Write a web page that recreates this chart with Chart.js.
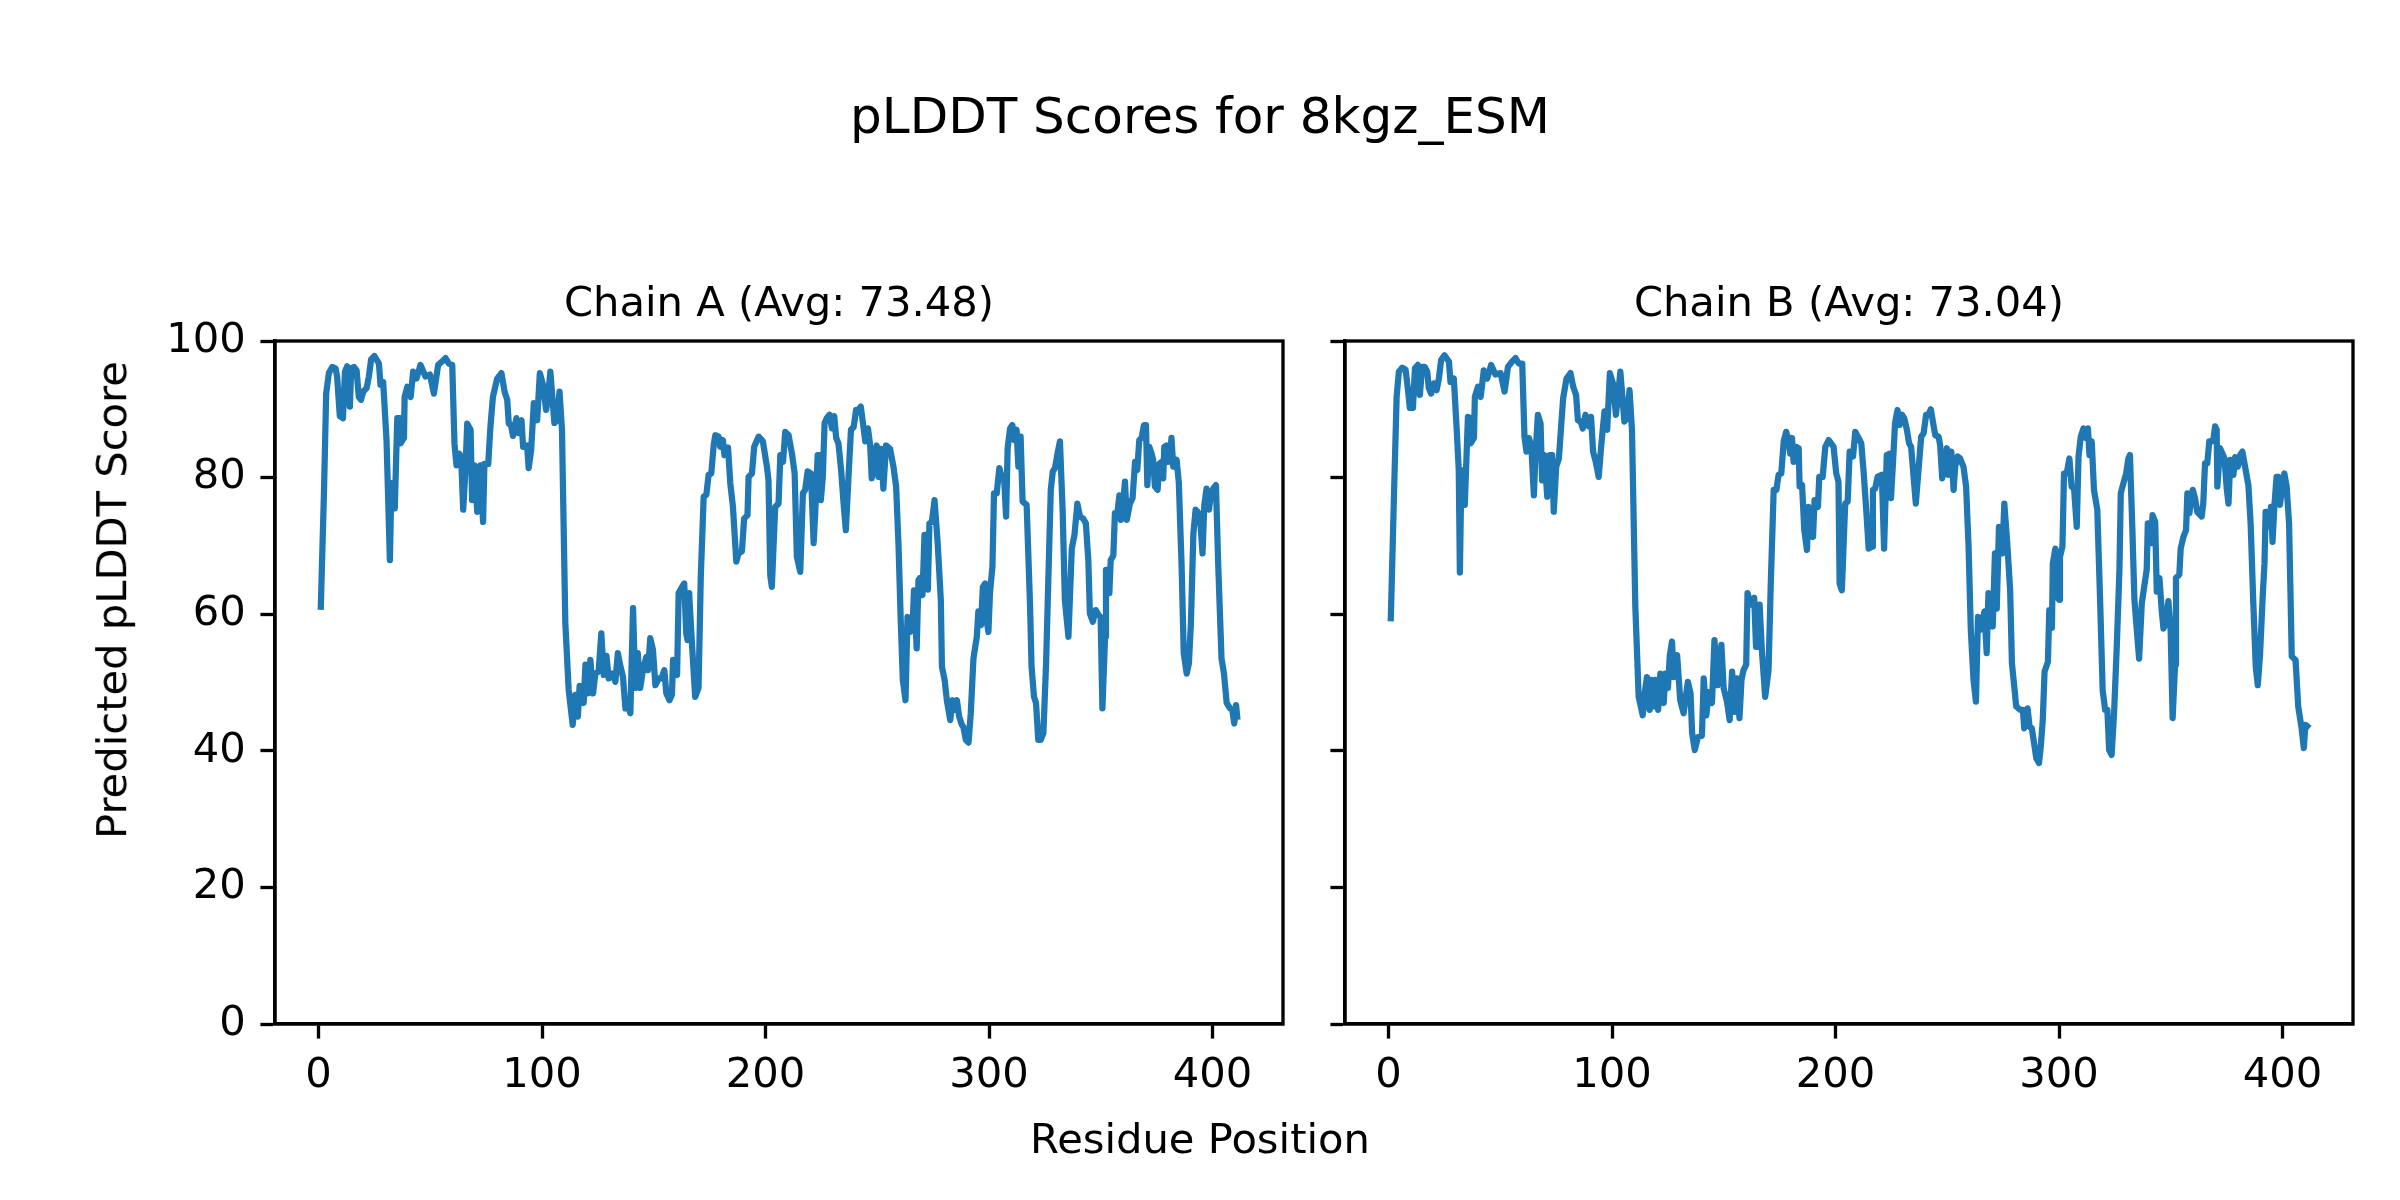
<!DOCTYPE html>
<html>
<head>
<meta charset="utf-8">
<script src="https://cdn.jsdelivr.net/npm/chart.js@4/dist/chart.umd.min.js"></script>
<style>
  html, body { margin: 0; padding: 0; background: #fff; }
  #fig { position: relative; width: 2400px; height: 1200px; overflow: hidden; background: #fff; }
  canvas { position: absolute; top: 0; }
  .txt { position: absolute; white-space: nowrap; font-family: "DejaVu Sans", sans-serif; color: #000; }
</style>
</head>
<body>
<div id="fig">
  <canvas id="cA" width="1330" height="1200" style="left:0px;width:1330px;height:1200px"></canvas>
  <canvas id="cB" width="1100" height="1200" style="left:1300px;width:1100px;height:1200px"></canvas>
  <div class="txt" id="supTitle" style="font-size:50px;line-height:50px;left:1200px;top:91px;transform:translateX(-50%)"></div>
  <div class="txt" id="titleA" style="font-size:41.67px;line-height:41.67px;left:779px;top:281px;transform:translateX(-50%)"></div>
  <div class="txt" id="titleB" style="font-size:41.67px;line-height:41.67px;left:1849px;top:281px;transform:translateX(-50%)"></div>
  <div class="txt" id="xLabel" style="font-size:41.67px;line-height:41.67px;left:1200px;top:1118px;transform:translateX(-50%)"></div>
  <div class="txt" id="yLabel" style="font-size:41.67px;line-height:41.67px;left:112px;top:600px;transform:translate(-50%,-50%) rotate(-90deg)"></div>
</div>
<script>
// ---------------- data ----------------
const figureTitle = "pLDDT Scores for 8kgz_ESM";
const chainTitles = ["Chain A (Avg: 73.48)", "Chain B (Avg: 73.04)"];
const xAxisLabel = "Residue Position";
const yAxisLabel = "Predicted pLDDT Score";
const xTickValues = [0, 100, 200, 300, 400];
const yTickValues = [0, 20, 40, 60, 80, 100];

const chainA_res = [1,2.4,3.4,4.6,6.1,7.6,8.3,9.5,10.9,11.8,12.8,14,14.6,15.8,17,18,19,20,21.5,22.5,23.5,25,27,27.7,28.9,30.4,31.9,32.6,34.1,35.2,36.4,36.7,38.2,38.5,39.7,41.2,42.3,43.8,45.6,47.8,49.8,51.6,53.5,55.3,56.8,58.3,59.8,60.8,61.7,63,63.8,64.7,65.7,66.5,68,68.7,69.7,71,72.4,73.6,74.2,75.9,76.9,78,79.9,81.8,83.2,84.4,85.1,86.1,87,88.5,89.6,90.8,91.5,93.3,94,95.1,96.3,97.8,99,100.4,101.8,102.7,103.7,105.5,106.7,107.8,108.9,110.4,111.9,113.7,114.9,116,116.8,117.9,118.6,119.4,120.4,121.6,122.8,123.8,125.3,126.5,127.6,128.8,129.8,131.3,132.8,133.9,135.1,136.2,137.3,138.4,139.5,140.7,141.7,142.8,143.9,145.1,146.6,147.4,148.4,149.6,150.7,152.2,153.4,154.7,155.6,157,158.1,158.6,160.4,161.1,162.6,163.6,164.5,165.1,165.8,167,168.5,170,171,172.3,173.5,174.5,175.7,176.8,177.5,179,179.7,180.9,181.6,183.2,184.2,185.4,186.9,187.9,189.4,190.4,191.9,192.4,193.9,194.9,196.9,198.8,200.6,201.3,202.1,202.8,204.3,205.8,206.6,207.8,208.8,210.3,211.8,213,214,215.5,216.7,217.7,218.8,220.3,221.5,222.2,223.3,224.2,224.7,225.6,226.4,227.4,228.6,229.7,230.7,231.6,232.6,233.8,234.9,235.9,237.1,238.2,239.4,240.5,241.6,242.6,243.8,244.6,245.8,246.8,247.5,248.6,249.7,250.5,251.6,252.7,253.9,255.7,257.2,258.4,259.5,260.5,261.4,262.6,263.5,264.7,265.8,266.4,267.6,268.4,269.1,270.2,271.1,271.8,272.6,273.3,274.4,275.6,277,278.4,278.9,280.1,281.1,282.6,283.7,284.5,285.6,286.6,287.8,288.5,289.6,290.8,291.8,293,294.5,295.2,296.4,297.2,298.2,299,299.7,300.4,301.5,302.2,303.4,304.6,305.6,306.7,307.6,308.3,309.4,310.4,311.3,312.3,313.1,314.1,315,316.8,318.3,319,320.1,321,322,323.1,324.3,325.5,326.5,327.6,328.5,329.5,330.6,331.7,332.9,333.9,335.5,337,338.2,339.5,340.7,342.1,343.3,344.4,345.1,346.4,347.7,348.9,349.9,350.7,351.9,352.3,353.4,353.8,354.4,355.6,356.3,357.4,358.3,359,360,360.8,361.6,363,364.2,365.3,366.3,367.2,368.2,369.3,370.2,370.8,371.7,372.7,373.4,374.2,375.4,376.1,377.2,377.9,378.4,379.4,380.1,380.9,381.6,382.4,383.1,383.9,384.9,386.1,387.1,388.4,389.4,390.3,391.4,392.4,393.3,394.3,395.5,396.3,397.3,398.4,399.3,400.3,401.5,402.5,404,405.1,406.3,407.8,408.8,409.7,410.5,411];
const chainA_plddt = [61.1,77.7,92.3,95.3,96.2,96,94.8,89,88.7,95.5,96.3,90.4,96,96.2,95.7,91.8,91.4,92.6,93.1,94.8,97.3,97.8,96.7,93.6,94,85.5,67.9,79.2,75.5,88.7,88.7,85,85.8,91.8,93.3,91.8,95.5,94.5,96.5,94.8,95.1,92.3,96.5,97,97.5,96.7,96.5,85,81.8,83.5,82.8,75.3,81.1,87.9,87,76.7,81.8,75,81.8,73.5,82,82,87.5,91.8,94.5,95.3,92.6,91.4,87.9,87.7,86.1,88.7,86.5,88.4,84.5,84.7,81.4,84,90.9,88.4,95.3,93.6,89.9,92,95.5,88,88.4,92.6,87,58.7,48.9,43.8,48.2,45,49.5,49.2,47,52.6,48.4,53.3,48.4,51.3,51.6,57.2,51.1,53.9,50.6,51.3,50.1,54.3,52.3,50.8,46.2,46.5,45.5,60.9,49.2,54.3,49.2,51.8,53.7,51.8,56.5,54.8,49.6,50.6,50.6,51.8,48.4,47.4,48.2,53.3,51.1,63.1,64,64.5,57.2,56.2,63.1,56,47.9,49.2,65.5,77.2,77.5,80.4,80.6,84.8,86.2,86,84.5,85.5,83.3,84.4,79.2,75.7,67.7,68.9,69.2,74,74.5,80.1,80.6,84.5,86,85.3,81.6,79.6,65.7,64,75.7,76.2,83.3,82.3,86.7,86.2,83.5,80.6,68.4,66.2,77.7,78.2,80.9,80.6,70.4,74.8,83.3,83.3,76.7,80.1,88,88.7,89.2,87.2,89,85.8,85,81.1,76.2,72.3,80.1,87,87.4,89.9,89.9,90.4,87.4,85.3,87.2,84.7,79.9,82.6,84.7,80.1,84.2,78.4,84.7,84.2,81.6,78.7,69.9,58.7,50.4,47.4,59.6,57.4,58.7,63.5,55,65,65.3,62.8,71.6,71.6,63.6,73.3,73.5,76.7,70.4,62.1,52.3,50.4,47.4,44.5,47.4,46,47.4,45,43.8,43.5,41.6,41.2,45.5,53.5,56.7,60.4,58.4,64,64.5,58.9,57.4,63.1,67,77.7,77.7,81.4,80.1,80.1,74.3,84.3,87.2,87.7,85.5,87,81.6,86,76.5,76,61.6,52.3,47.9,47,41.6,41.6,42.6,52.8,65,78.2,80.9,81.4,83.5,85.3,75.3,62.1,56.7,69.6,71.6,76.2,74.3,74,73.3,67.9,60.1,58.9,60.6,59.9,59.6,46.2,56.7,66.5,66.5,63.1,67.9,68.6,74.8,74.8,77.4,73.8,76.5,79.4,73.8,76.2,77,82.3,81.1,85.5,85.8,87.7,87.7,78.9,84.5,83.5,82.6,78.7,78.2,82,82.3,79.9,84.5,84.7,82.3,83,85.8,81.6,82.3,82.6,79.2,67.4,54.3,51.3,52.8,58.7,71.8,75.3,75,74.5,68.9,76,78.4,75.3,77.7,78.4,78.9,67.4,53.5,51.3,47,46.2,46,44,46.7,45];

const chainB_res = [1,2.4,3.6,4.6,6.1,7.6,8.6,9.5,10.9,11.8,13.1,14,15,16.2,17.3,18,19,20.3,21.5,22.5,23.5,25,27,27.7,29.2,30.4,31.4,31.9,32.6,34.1,35.5,36.4,36.7,38.2,38.6,40,41.2,42.6,44.1,45.9,47.8,50.1,51.9,53.4,55.3,56.8,58.3,59.8,60.8,61.7,62.8,63.9,65,65.7,66.8,68,68.7,69.7,71,72.1,73.2,73.9,75,76.2,77.2,78.1,79.6,81.4,82.6,83.9,84.7,85.9,86.9,88.1,89.6,90.6,91.5,92.7,94,95.1,96.6,97.8,99,100.4,101.7,102.6,103.7,105.5,106.7,107.8,108.9,110.4,111.9,113.7,114.6,115.6,116.8,117.6,118.6,119.4,120.6,121.6,123.1,123.8,125,125.8,126.8,127.6,129.1,130.5,132,133.9,135.1,135.8,137,138.4,140.2,141,142.2,143.2,144.7,145.8,147.2,148.9,149.9,151.4,152.6,153.7,154.8,155.8,157,157.9,158.8,160,160.6,162.1,163.6,164.4,165.1,166,167,168.5,170,171,172.3,173.5,174.5,175.7,176.8,177.9,179,179.7,180.5,181.2,182.3,183.5,183.9,185,186,187.2,187.9,188.7,189.9,190.6,192.1,192.7,194.2,195.4,196.9,199.1,200.3,201.3,201.8,202.8,204.3,205.4,206.3,207.8,208.8,210.3,211.5,212.6,213.8,214.8,216.3,216.7,217.7,218.8,220.7,221.7,222.9,224.1,224.8,225.9,226.6,227.7,228.6,229.7,230.7,231.9,232.9,233.8,234.9,235.9,237.1,238.3,239.4,240.5,241.6,242.6,243.8,244.6,246.1,246.8,247.7,248.8,249.8,250.5,251.8,252.8,253.5,254.6,255.7,257.2,258.4,259.5,260.5,261.7,262.8,263.7,264.7,265.8,266.6,267.6,268.4,269.4,270.3,271.3,272.1,273.1,274,274.6,275.5,276.9,278.1,278.9,280.1,280.8,282.6,283.8,284.4,285.9,286.8,287.8,288.9,289.8,291,291.8,292.7,293.5,295,295.6,296.8,297.2,298.3,299,300,300.4,301.5,302.2,303.4,304.6,305.6,306.7,307.9,308.7,309.7,310.9,312,312.9,313.6,314.6,315.6,317.1,318.3,319.5,320.6,321.6,322.4,323.5,324.6,325.8,327,327.6,328.8,330,331,331.7,332.8,333.7,335.8,337,338.2,339.2,339.7,340.4,341.2,341.8,343,343.7,344.9,345.9,346.7,347.7,348.9,349.9,350.8,351.9,352.3,353.8,354.4,355.6,356.8,357.4,358.3,359,359.8,360.8,361.8,363.8,364.5,365.3,366.3,367.2,368.2,369,369.8,370.5,370.8,372,373.1,374,375,375.8,376.6,377.3,378,378.8,380,381,382,383.2,384.7,385.7,386.9,388,388.9,389.9,391.1,391.9,392.4,393.3,394.4,394.8,395.5,396.3,397.3,398.1,398.8,399.9,400.8,401.8,402.9,404.1,405.8,407,408.5,409.5,410.2,411];
const chainB_plddt = [59.4,77.2,91.8,95.5,96.1,95.8,93.1,90.2,90.2,96,96.5,92.1,96.2,96.2,95.5,93.1,92.3,93.8,92.8,94.5,97.2,97.9,97,94,94.5,87.5,81.1,66.1,81.1,76,88.9,88.7,85,85.8,91.8,93.3,91.8,95.7,94.5,96.5,95.1,95.3,92.6,96.2,97,97.5,96.7,96.7,86,83.8,85.8,84.5,77.4,83.1,89.2,87.9,79.6,83.3,77.2,83.3,83.3,75,81.6,82.8,87.5,91.6,94.5,95.3,93.3,92.1,88.4,88.2,87.2,89.2,87.5,88.9,83.8,82.3,80.1,84.5,89.7,87,95.3,93.8,89.2,91.8,95.5,88.2,88.7,92.8,87,61.1,47.9,45.2,48.4,50.8,46,50.4,46.5,50.4,46,51.3,47,51.3,49.2,53.9,56,50.8,54,47.4,45.5,50.1,48.4,42.6,40.1,42,42.2,50.6,45.2,48.6,47,56.2,49.6,55.5,49.2,47.2,44.5,51.6,45.7,50.6,44.8,50.4,51.8,52.6,63.1,61.4,62.4,55.2,55.2,61.4,54.8,47.9,51.8,64.5,78.2,78.2,80.4,80.6,85.3,86.7,85.3,83.5,85.8,82.3,84.5,84.3,78.7,78.9,72.3,69.4,75.7,74.3,71.3,76.7,75.7,80.1,80.1,84.5,85.5,84.5,80.6,79.4,64.5,63.5,76.2,76.5,83.8,83.1,86.7,85.8,85,80.6,74.8,69.6,69.9,78.2,78.4,80.1,80.4,69.6,83.3,83.5,77,83.5,88,89.9,87.7,89.2,88.7,87,85,84.5,80.1,76.2,81.1,86,86.5,89.2,89.2,90,87.7,86.2,86,84.7,79.9,81.4,84.3,80.4,83.8,78.2,81.6,83.1,82.8,81.6,78.7,69.9,57.7,50.4,47.2,59.6,57.7,59.2,60.4,54.3,63.1,62.1,58.2,68.9,60.8,72.8,70.4,68.9,76.2,69.9,63.5,52.8,48.9,46.5,46,46,43.3,46.2,43.5,43.3,40.9,38.9,38.2,40.6,44.5,51.6,53,60.6,58,67.4,69.6,62.6,62.1,68.4,69.9,80.6,80.6,82.8,78.7,78.4,72.8,83.1,86,87.2,85.8,87.2,83.3,85.3,78.2,75.3,62.6,48.9,46,46,40.1,39.4,45.5,55.2,66.5,77.7,79.2,80.6,82.8,83.3,72.3,62.1,53.5,61.6,64.3,66.5,73.3,73.3,70.4,74.5,73.5,63.3,65.3,60.6,57.9,58.7,61.9,57.7,44.8,52.6,65.3,65.8,69.6,71.3,72.3,77.7,74.8,76.7,78.2,77,75,74.3,76.2,82.1,82.1,85.3,85.3,85.5,87.5,87,78.7,84.3,83.5,82.8,78.4,76.2,82.6,82.3,80.4,83,81.6,83.3,83.8,81.6,78.9,73.3,61.6,52.3,49.6,54,62.6,67.4,75,75,72.8,75.7,70.6,75.7,80.1,80.1,76,78.7,80.6,78.7,73.3,53.8,53.3,46.5,43.3,40.4,43.8,43.6];

// ---------------- text ----------------
document.getElementById('supTitle').textContent = figureTitle;
document.getElementById('titleA').textContent = chainTitles[0];
document.getElementById('titleB').textContent = chainTitles[1];
document.getElementById('xLabel').textContent = xAxisLabel;
document.getElementById('yLabel').textContent = yAxisLabel;

// ---------------- chart styling ----------------
const PT = 300 / 72;               // px per point at 300 dpi
const FONT = { family: "'DejaVu Sans', sans-serif", size: 10 * PT };
const LINE_COLOR = '#1f77b4';

const boxPlugin = {
  id: 'box',
  afterDraw(chart) {
    const { ctx, chartArea: a } = chart;
    ctx.save();
    ctx.strokeStyle = '#000';
    ctx.lineWidth = 0.8 * PT;
    ctx.lineJoin = 'miter';
    ctx.strokeRect(a.left, a.top, a.right - a.left, a.bottom - a.top);
    ctx.restore();
  }
};

function makeChart(canvasId, xs, ys, yAxisWidth, padRight, showYLabels) {
  const points = xs.map((x, i) => ({ x: x, y: ys[i] }));
  return new Chart(document.getElementById(canvasId), {
    type: 'line',
    data: {
      datasets: [{
        data: points,
        borderColor: LINE_COLOR,
        borderWidth: 1.5 * PT,
        pointRadius: 0,
        tension: 0,
        fill: false,
        borderCapStyle: 'square',
        borderJoinStyle: 'round'
      }]
    },
    plugins: [boxPlugin],
    options: {
      responsive: false,
      animation: false,
      devicePixelRatio: 1,
      events: [],
      layout: { padding: { top: 341, right: padRight, left: 0, bottom: 0 } },
      plugins: { legend: { display: false }, title: { display: false }, tooltip: { enabled: false } },
      scales: {
        x: {
          type: 'linear',
          min: -19.5,
          max: 431.5,
          afterBuildTicks: (s) => { s.ticks = xTickValues.map(v => ({ value: v })); },
          afterFit: (s) => { s.height = 176; },
          grid: { display: true, drawOnChartArea: false, drawTicks: true, tickLength: 3.5 * PT, tickWidth: 0.8 * PT, tickColor: '#000' },
          border: { display: true, color: '#000', width: 0.8 * PT },
          ticks: { font: FONT, color: '#000', padding: 3.5 * PT - 2, maxRotation: 0, autoSkip: false, callback: (v) => String(v) }
        },
        y: {
          type: 'linear',
          min: 0,
          max: 100,
          afterBuildTicks: (s) => { s.ticks = yTickValues.map(v => ({ value: v })); },
          afterFit: (s) => { s.width = yAxisWidth; },
          grid: { display: true, drawOnChartArea: false, drawTicks: true, tickLength: 3.5 * PT, tickWidth: 0.8 * PT, tickColor: '#000' },
          border: { display: true, color: '#000', width: 0.8 * PT },
          ticks: { display: showYLabels, font: FONT, color: '#000', padding: 3.5 * PT, autoSkip: false, callback: (v) => String(v) }
        }
      }
    }
  });
}

makeChart('cA', chainA_res, chainA_plddt, 275, 47, true);
makeChart('cB', chainB_res, chainB_plddt, 45, 47, false);
</script>
</body>
</html>
